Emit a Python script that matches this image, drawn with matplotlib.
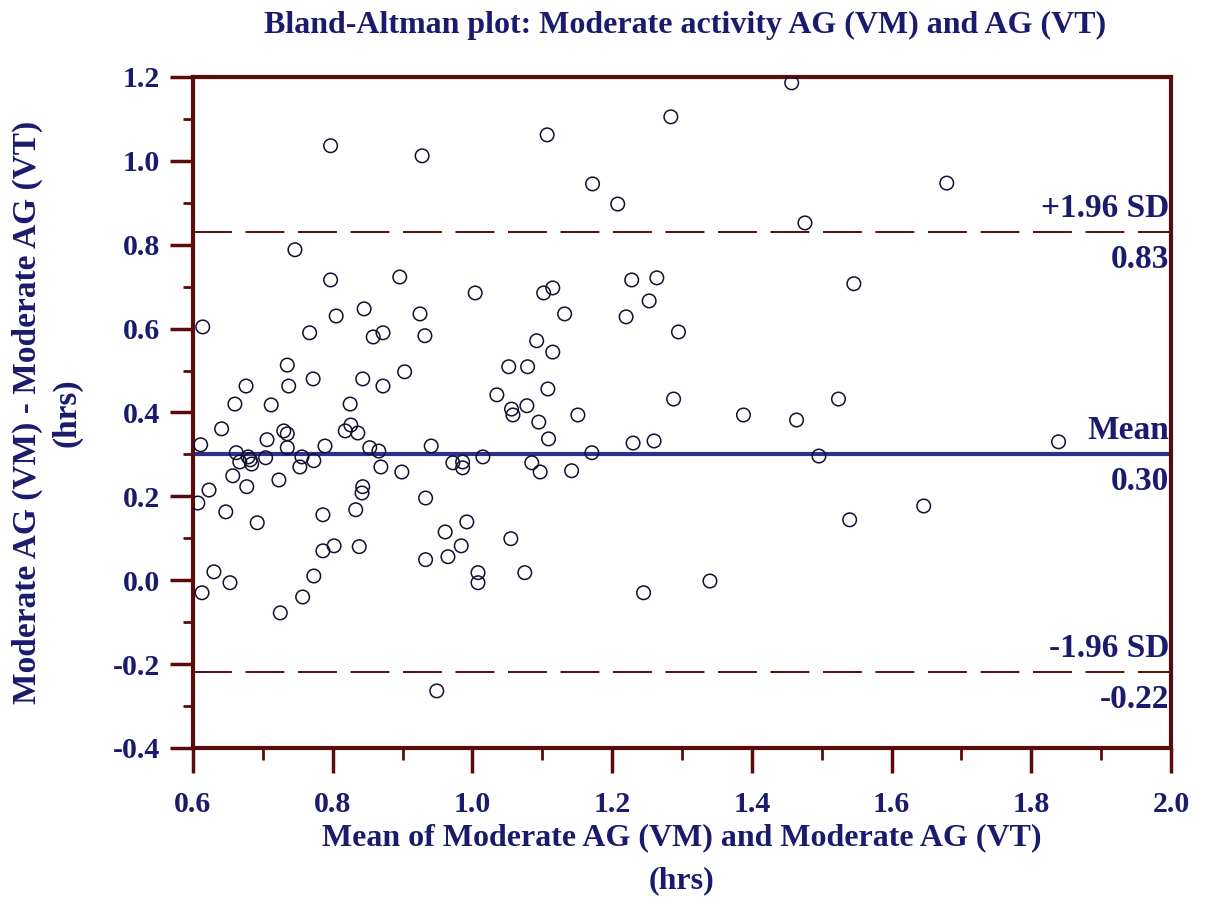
import matplotlib
matplotlib.use("Agg")
import matplotlib.pyplot as plt
import numpy as np
from matplotlib.ticker import MultipleLocator, FormatStrFormatter

# mean of the two measures (hrs)
mean_vals = [
    1.457, 1.284, 1.107, 0.797, 0.928, 1.172, 1.679, 1.208, 1.476, 0.746,
    0.797, 0.896, 1.228, 1.264, 1.546, 1.004, 1.102, 1.115, 1.253, 0.845,
    0.805, 0.925, 1.132, 1.220, 1.295, 0.614, 0.767, 0.858, 0.872, 0.932,
    1.092, 1.115, 0.735, 1.052, 1.079, 0.903, 0.772, 0.843, 0.676, 0.737,
    0.872, 1.108, 1.035, 1.288, 1.524, 0.660, 0.712, 0.825, 1.056, 1.058,
    1.078, 1.095, 1.151, 1.388, 1.464, 1.109, 1.230, 1.260, 0.641, 0.611,
    0.730, 0.735, 0.706, 0.818, 0.826, 0.836, 0.735, 0.789, 0.853, 0.866,
    0.941, 1.839, 0.662, 0.679, 0.682, 0.684, 0.667, 0.704, 0.756, 0.773,
    0.753, 0.869, 0.899, 0.972, 0.986, 0.986, 1.015, 1.171, 1.085, 1.097,
    1.142, 1.496, 0.657, 0.677, 0.723, 0.623, 0.607, 0.647, 0.692, 0.843,
    0.842, 0.833, 0.786, 0.933, 0.992, 0.961, 0.786, 0.802, 0.838, 0.984,
    0.933, 0.965, 1.008, 1.008, 1.055, 1.075, 1.245, 1.340, 1.540, 1.646,
    0.630, 0.653, 0.613, 0.773, 0.757, 0.725, 0.949,
]
# difference VM - VT (hrs)
diff_vals = [
    1.186, 1.105, 1.062, 1.036, 1.012, 0.945, 0.947, 0.897, 0.852, 0.788,
    0.716, 0.723, 0.716, 0.721, 0.707, 0.685, 0.685, 0.697, 0.666, 0.647,
    0.630, 0.635, 0.635, 0.628, 0.592, 0.604, 0.590, 0.580, 0.590, 0.583,
    0.571, 0.544, 0.513, 0.509, 0.509, 0.497, 0.480, 0.480, 0.463, 0.463,
    0.463, 0.456, 0.442, 0.432, 0.432, 0.420, 0.418, 0.420, 0.408, 0.394,
    0.416, 0.377, 0.394, 0.394, 0.382, 0.337, 0.327, 0.332, 0.361, 0.323,
    0.356, 0.349, 0.335, 0.356, 0.370, 0.351, 0.316, 0.320, 0.316, 0.308,
    0.320, 0.330, 0.304, 0.294, 0.287, 0.277, 0.282, 0.292, 0.294, 0.285,
    0.270, 0.270, 0.258, 0.280, 0.282, 0.268, 0.294, 0.304, 0.280, 0.258,
    0.261, 0.296, 0.249, 0.223, 0.239, 0.215, 0.184, 0.163, 0.137, 0.223,
    0.208, 0.168, 0.156, 0.196, 0.139, 0.115, 0.070, 0.082, 0.080, 0.082,
    0.049, 0.056, 0.018, -0.006, 0.099, 0.018, -0.030, -0.002, 0.144, 0.177,
    0.020, -0.006, -0.030, 0.010, -0.040, -0.078, -0.264,
]

bias = 0.30
upper = 0.83
lower = -0.22

navy = "#1b1b6e"
maroon = "#5a0b0b"
font = {"family": "Liberation Serif", "weight": "bold", "color": navy}

fig = plt.figure(figsize=(12.06, 9.11), dpi=100)
ax = fig.add_axes([0.160, 0.179, 0.811, 0.7365])

ax.scatter(mean_vals, diff_vals, s=95, facecolors="none", edgecolors="#101030",
           linewidths=1.1, zorder=3)

ax.axhline(bias, color="#2e318a", lw=3, zorder=2)
ax.axhline(upper, color=maroon, lw=1.4, dashes=(20, 7), zorder=2)
ax.axhline(lower, color=maroon, lw=1.4, dashes=(20, 7), zorder=2)

ax.set_xlim(0.6, 2.0)
ax.set_ylim(-0.4, 1.2)
ax.xaxis.set_major_locator(MultipleLocator(0.2))
ax.xaxis.set_minor_locator(MultipleLocator(0.1))
ax.yaxis.set_major_locator(MultipleLocator(0.2))
ax.yaxis.set_minor_locator(MultipleLocator(0.1))
ax.xaxis.set_major_formatter(FormatStrFormatter("%.1f"))
ax.yaxis.set_major_formatter(FormatStrFormatter("%.1f"))

for s in ax.spines.values():
    s.set_color(maroon)
    s.set_linewidth(3)

ax.tick_params(which="both", direction="out", color=maroon,
               labelsize=21.5, labelcolor=navy)
ax.tick_params(axis="y", which="major", length=16.5, width=2.5, pad=7)
ax.tick_params(axis="y", which="minor", length=7, width=2)
ax.tick_params(axis="x", which="major", length=18, width=2.5, pad=13)
ax.tick_params(axis="x", which="minor", length=8.5, width=2)
for lab in ax.get_xticklabels() + ax.get_yticklabels():
    lab.set_fontfamily("Liberation Serif")
    lab.set_fontweight("bold")

# line labels on the right
ytr = ax.get_yaxis_transform()
for val, name in [(upper, "+1.96 SD"), (bias, "Mean"), (lower, "-1.96 SD")]:
    ax.text(0.998, val + 0.02, name, transform=ytr,
            ha="right", va="bottom", fontsize=24, **font)
    ax.text(0.998, val - 0.028, "%.2f" % val, transform=ytr,
            ha="right", va="top", fontsize=24, **font)

fig.text(0.568, 0.972, "Bland-Altman plot: Moderate activity AG (VM) and AG (VT)",
         ha="center", va="center", fontsize=23, **font)
ax.set_xlabel("Mean of Moderate AG (VM) and Moderate AG (VT)\n(hrs)",
              fontsize=23, labelpad=4, linespacing=1.6, **font)
ax.set_ylabel("Moderate AG (VM) - Moderate AG (VT)\n(hrs)",
              fontsize=24, labelpad=22, linespacing=1.35, **font)

fig.savefig("out.png", dpi=100)
